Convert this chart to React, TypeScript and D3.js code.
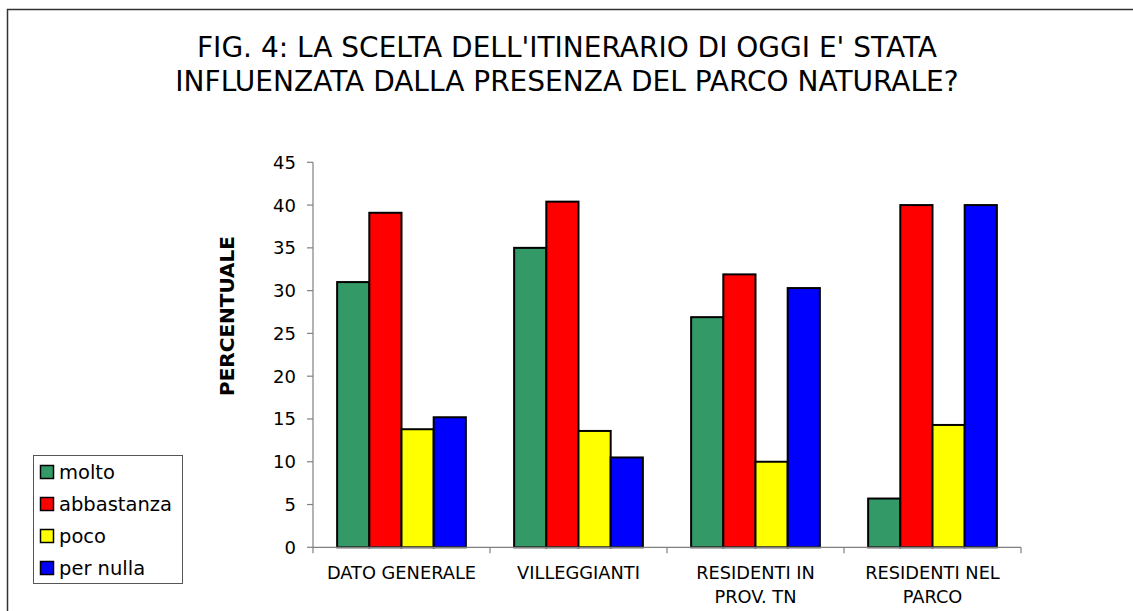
import React from "react";
import * as d3 from "d3";

const categories: string[][] = [
  ["DATO GENERALE"],
  ["VILLEGGIANTI"],
  ["RESIDENTI IN", "PROV. TN"],
  ["RESIDENTI NEL", "PARCO"],
];
const seriesNames = ["molto", "abbastanza", "poco", "per nulla"];
const seriesColors = ["#339966", "#FF0000", "#FFFF00", "#0000FF"];
const molto = [31.0, 35.0, 26.9, 5.7];
const abbastanza = [39.1, 40.4, 31.9, 40.0];
const poco = [13.8, 13.6, 10.0, 14.3];
const perNulla = [15.2, 10.5, 30.3, 40.0];
const yTicks = [0, 5, 10, 15, 20, 25, 30, 35, 40, 45];
const titleLines = [
  "FIG. 4: LA SCELTA DELL'ITINERARIO DI OGGI E' STATA",
  "INFLUENZATA DALLA PRESENZA DEL PARCO NATURALE?",
];

const W = 1133;
const H = 611;
const FONT = "'DejaVu Sans', Verdana, sans-serif";

export default function App() {
  const series = [molto, abbastanza, poco, perNulla];
  const left = 313;
  const right = 1021;
  const top = 162.3;
  const bottom = 547.3;
  const y = d3.scaleLinear().domain([0, 45]).range([bottom, top]);
  const x0 = d3
    .scaleBand<number>()
    .domain(d3.range(categories.length))
    .range([left, right])
    .paddingInner(0)
    .paddingOuter(0);
  const gw = x0.bandwidth();
  const barW = gw / 5.5;
  const x1 = d3
    .scaleBand<number>()
    .domain(d3.range(series.length))
    .range([barW * 0.75, gw - barW * 0.75]);

  return (
    <svg
      width={W}
      height={H}
      style={{ position: "absolute", left: 0, top: 0, background: "#fff" }}
      fontFamily={FONT}
    >
      <rect x={0} y={0} width={W} height={H} fill="#fff" />
      <rect x={7.5} y={9.5} width={W + 20} height={H + 20} fill="none" stroke="#333" strokeWidth={1.5} />
      {titleLines.map((t, i) => (
        <text key={i} x={567} y={56.7 + i * 34.3} textAnchor="middle" fontSize={28} fill="#000">
          {t}
        </text>
      ))}
      {/* y axis */}
      <line x1={left} x2={left} y1={top} y2={bottom} stroke="#808080" strokeWidth={1.2} />
      {yTicks.map((t) => (
        <g key={t}>
          <line x1={left - 6} x2={left} y1={y(t)} y2={y(t)} stroke="#808080" strokeWidth={1.2} />
          <text x={296} y={y(t)} dy="0.36em" textAnchor="end" fontSize={18} fill="#000">
            {t}
          </text>
        </g>
      ))}
      <text
        transform={`translate(234,316) rotate(-90)`}
        textAnchor="middle"
        fontSize={20}
        fontWeight="bold"
        fill="#000"
      >
        PERCENTUALE
      </text>
      {/* bars */}
      {categories.map((c, ci) => (
        <g key={ci} transform={`translate(${x0(ci)},0)`}>
          {series.map((s, si) => (
            <rect
              key={si}
              x={x1(si)}
              y={y(s[ci])}
              width={x1.bandwidth()}
              height={bottom - y(s[ci])}
              fill={seriesColors[si]}
              stroke="#000"
              strokeWidth={2}
            />
          ))}
        </g>
      ))}
      {/* x axis */}
      <line x1={left} x2={right} y1={bottom} y2={bottom} stroke="#808080" strokeWidth={1.2} />
      {d3.range(categories.length + 1).map((i) => (
        <line
          key={i}
          x1={left + i * gw}
          x2={left + i * gw}
          y1={bottom}
          y2={bottom + 6}
          stroke="#808080"
          strokeWidth={1.2}
        />
      ))}
      {categories.map((c, ci) =>
        c.map((line, li) => (
          <text
            key={ci + "-" + li}
            x={(x0(ci) as number) + gw / 2}
            y={579 + li * 23.5}
            textAnchor="middle"
            fontSize={17.8}
            fill="#000"
          >
            {line}
          </text>
        ))
      )}
      {/* legend */}
      <rect x={33.5} y={455.5} width={149} height={128} fill="#fff" stroke="#555" strokeWidth={1} />
      {seriesNames.map((n, i) => (
        <g key={n} transform={`translate(0,${472 + i * 32})`}>
          <rect x={40.5} y={-6.5} width={13} height={13} fill={seriesColors[i]} stroke="#000" strokeWidth={1.5} />
          <text x={59} y={0} dy="0.36em" fontSize={19.5} fill="#000">
            {n}
          </text>
        </g>
      ))}
    </svg>
  );
}
